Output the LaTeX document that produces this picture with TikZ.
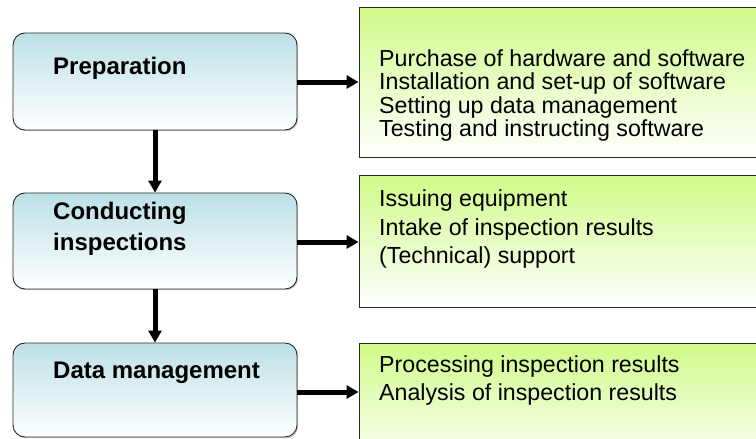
\documentclass[tikz,border=0pt]{standalone}
\usepackage{fontspec}
\setmainfont{Liberation Sans}
\usetikzlibrary{arrows.meta,shadows}
\definecolor{bluetop}{RGB}{188,224,230}
\definecolor{greentop}{RGB}{208,250,136}
\definecolor{edge}{RGB}{40,40,40}
\tikzset{
  stagebox/.style={draw=edge, line width=0.9pt, rounded corners=12pt,
    top color=bluetop, bottom color=white, inner sep=0pt,
    drop shadow={shadow xshift=1.2pt, shadow yshift=-1.2pt, fill=black!35, opacity=0.6}},
  taskbox/.style={draw=edge, line width=0.9pt, top color=greentop, bottom color=white, inner sep=0pt},
  stagetext/.style={anchor=base west, inner sep=0pt, font=\fontsize{24}{28}\selectfont\bfseries},
  tasktext/.style={anchor=base west, inner sep=0pt, font=\fontsize{23.2}{27}\selectfont},
  flow/.style={line width=5pt, -{Triangle[length=12pt,width=13pt]}}
}
\begin{document}
\begin{tikzpicture}[x=1pt,y=-1pt]
\clip (0,0) rectangle (756,439);
\useasboundingbox (0,0) rectangle (756,439);
% stage boxes
\node[stagebox, minimum width=284pt, minimum height=97pt] (b1) at (155,81.5) {};
\node[stagebox, minimum width=284pt, minimum height=96pt] (b2) at (155,241) {};
\node[stagebox, minimum width=284pt, minimum height=94pt] (b3) at (155,390) {};
% task boxes
\node[taskbox, minimum width=460pt, minimum height=150pt] (r1) at (589,82) {};
\node[taskbox, minimum width=460pt, minimum height=132pt] (r2) at (589,241) {};
\node[taskbox, minimum width=460pt, minimum height=127pt] (r3) at (589,406.5) {};
% stage labels
\node[stagetext] (s1) at (53,74) {Preparation};
\node[stagetext] (s2a) at (53,219.5) {Conducting};
\node[stagetext] (s2b) at (53,250.5) {inspections};
\node[stagetext] (s3) at (53,378) {Data management};
% task texts
\node[tasktext] (t1a) at (379,66) {Purchase of hardware and software};
\node[tasktext] (t1b) at (379,89.5) {Installation and set-up of software};
\node[tasktext] (t1c) at (379,113) {Setting up data management};
\node[tasktext] (t1d) at (379,136.5) {Testing and instructing software};
\node[tasktext] (t2a) at (379,206.7) {Issuing equipment};
\node[tasktext] (t2b) at (379,235) {Intake of inspection results};
\node[tasktext] (t2c) at (379,263.3) {(Technical) support};
\node[tasktext] (t3a) at (379,372.7) {Processing inspection results};
\node[tasktext] (t3b) at (379,400.5) {Analysis of inspection results};
% connectors
\draw[flow] ([yshift=-0.5pt]b1.east) -- ([yshift=-0.5pt]b1.east -| r1.west);
\draw[flow] ([yshift=-1pt]b2.east) -- ([yshift=-1pt]b2.east -| r2.west);
\draw[flow] ([yshift=-2pt]b3.east) -- ([yshift=-2pt]b3.east -| r3.west);
\draw[flow] (b1.south) -- (b2.north);
\draw[flow] (b2.south) -- (b3.north);
\end{tikzpicture}
\end{document}
